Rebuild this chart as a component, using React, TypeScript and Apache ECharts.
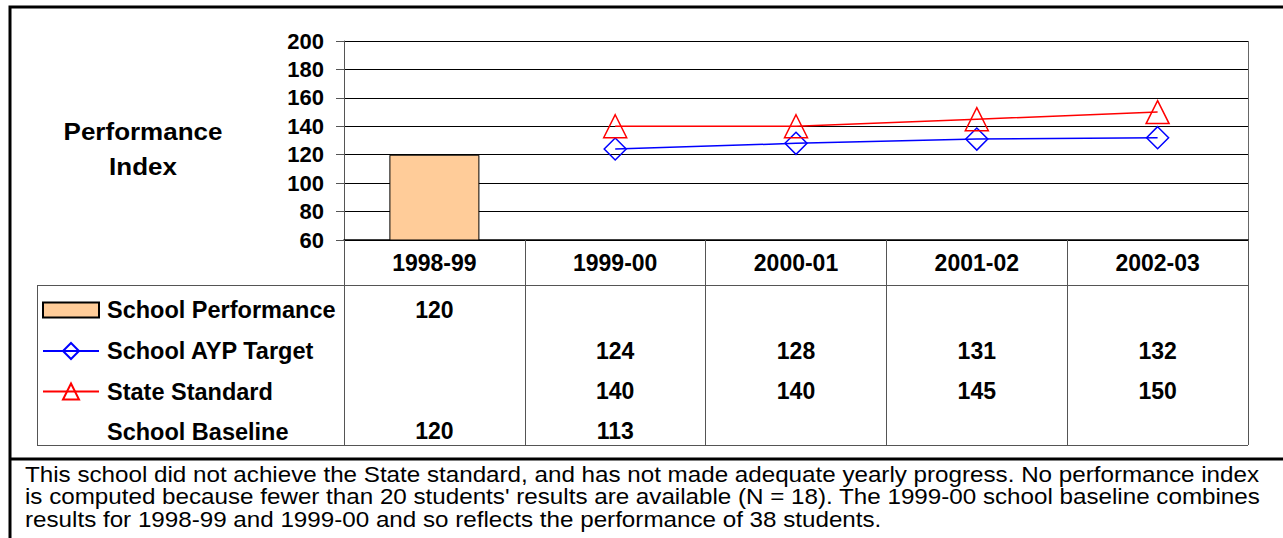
import React, { useEffect, useRef } from "react";
import * as echarts from "echarts";

const categories = ["1998-99", "1999-00", "2000-01", "2001-02", "2002-03"];
const schoolPerformance: (number | null)[] = [120, null, null, null, null];
const aypTarget: (number | null)[] = [null, 124, 128, 131, 132];
const stateStandard: (number | null)[] = [null, 140, 140, 145, 150];
const schoolBaseline: (number | null)[] = [120, 113, null, null, null];
const yMin = 60;
const yMax = 200;
const yStep = 20;
const axisTitle = ["Performance", "Index"];
const seriesNames = ["School Performance", "School AYP Target", "State Standard", "School Baseline"];
const noteLines = [
  "This school did not achieve the State standard, and has not made adequate yearly progress. No performance index",
  "is computed because fewer than 20 students' results are available (N = 18). The 1999-00 school baseline combines",
  "results for 1998-99 and 1999-00 and so reflects the performance of 38 students.",
];

const FONT = "'Liberation Sans', Arial, Helvetica, sans-serif";

export default function App() {
  const ref = useRef<HTMLDivElement>(null);
  useEffect(() => {
    if (!ref.current) return;
    const chart = echarts.init(ref.current, null, { renderer: "svg" });
    const rows = [schoolPerformance, aypTarget, stateStandard, schoolBaseline];
    const rowOffsets = [59, 100, 140, 180];
    const labelBase = {
      fontSize: 23,
      fontWeight: "bold" as const,
      color: "#000",
      fontFamily: FONT,
      lineHeight: 22,
    };
    const rowAxes = rows.map((row, i) => ({
      type: "category" as const,
      data: categories,
      gridIndex: 0,
      position: "bottom" as const,
      offset: rowOffsets[i],
      axisLine: { show: false },
      axisTick: { show: false },
      splitLine: { show: false },
      axisLabel: {
        ...labelBase,
        interval: 0,
        margin: 0,
        formatter: (_v: string, idx: number) => (row[idx] == null ? "" : String(row[idx])),
      },
    }));
    const legendText = { ...labelBase, fontSize: 23.5, padding: [0, 0, 0, 3] };
    const option: any = {
      animation: false,
      backgroundColor: "#fff",
      grid: { left: 344, top: 41, width: 904, height: 199, containLabel: false },
      xAxis: [
        {
          type: "category",
          data: categories,
          position: "bottom",
          axisLine: { show: true, lineStyle: { color: "#000", width: 1.5 } },
          axisTick: { show: true, length: 205, alignWithLabel: false, interval: 0, lineStyle: { color: "#555", width: 1 } },
          axisLabel: { ...labelBase, interval: 0, margin: 12 },
          splitLine: { show: false },
        },
        ...rowAxes,
      ],
      yAxis: {
        type: "value",
        min: yMin,
        max: yMax,
        interval: yStep,
        axisLine: { show: true, lineStyle: { color: "#555", width: 1 } },
        axisTick: { show: true, length: 8, lineStyle: { color: "#555" } },
        axisLabel: { ...labelBase, fontSize: 22, margin: 20 },
        splitLine: { show: true, lineStyle: { color: "#000", width: 1 } },
      },
      legend: [
        {
          orient: "vertical",
          left: 37,
          top: 293,
          itemWidth: 56,
          itemHeight: 15,
          selectedMode: false,
          textStyle: legendText,
          data: [{ name: seriesNames[0], icon: "rect" }],
        },
        {
          orient: "vertical",
          left: 37,
          top: 334,
          itemWidth: 56,
          itemHeight: 20,
          itemGap: 16.5,
          selectedMode: false,
          textStyle: legendText,
          data: [
            { name: seriesNames[1] },
            { name: seriesNames[2] },
            { name: seriesNames[3], icon: "none", itemStyle: { opacity: 0 }, lineStyle: { opacity: 0 } },
          ],
        },
      ],
      series: [
        {
          name: seriesNames[0],
          type: "bar",
          data: schoolPerformance,
          barWidth: 90,
          itemStyle: { color: "#FFCC99", borderColor: "#000", borderWidth: 1 },
        },
        {
          name: seriesNames[1],
          type: "line",
          data: aypTarget,
          symbol: "diamond",
          symbolSize: 22,
          lineStyle: { color: "#0000FF", width: 1.5 },
          itemStyle: { color: "rgba(255,255,255,0)", borderColor: "#0000FF", borderWidth: 1.5 },
        },
        {
          name: seriesNames[2],
          type: "line",
          data: stateStandard,
          symbol: "triangle",
          symbolSize: 23,
          lineStyle: { color: "#FF0000", width: 1.5 },
          itemStyle: { color: "rgba(255,255,255,0)", borderColor: "#FF0000", borderWidth: 1.5 },
        },
        {
          name: seriesNames[3],
          type: "line",
          data: [],
          symbol: "none",
          lineStyle: { opacity: 0 },
        },
      ],
      graphic: [
        {
          type: "rect",
          shape: { x: 10, y: 7, width: 1300, height: 600 },
          style: { fill: "none", stroke: "#000", lineWidth: 3 },
          silent: true,
        },
        {
          type: "line",
          shape: { x1: 10, y1: 459, x2: 1290, y2: 459 },
          style: { stroke: "#000", lineWidth: 3 },
          silent: true,
        },
        {
          type: "line",
          shape: { x1: 1248.5, y1: 41, x2: 1248.5, y2: 240 },
          style: { stroke: "#666", lineWidth: 1 },
          silent: true,
        },
        {
          type: "line",
          shape: { x1: 37, y1: 285.5, x2: 1248, y2: 285.5 },
          style: { stroke: "#555", lineWidth: 1 },
          silent: true,
        },
        {
          type: "line",
          shape: { x1: 37.5, y1: 285, x2: 37.5, y2: 445 },
          style: { stroke: "#555", lineWidth: 1 },
          silent: true,
        },
        {
          type: "line",
          shape: { x1: 37, y1: 445.5, x2: 1248, y2: 445.5 },
          style: { stroke: "#555", lineWidth: 1 },
          silent: true,
        },
        {
          type: "text",
          x: 143,
          y: 150,
          scaleX: 1.13,
          style: {
            text: axisTitle.join("\n"),
            fontSize: 23,
            fontWeight: "bold",
            fontFamily: FONT,
            fill: "#000",
            lineHeight: 35,
            align: "center",
            verticalAlign: "middle",
          },
          silent: true,
        },
        ...noteLines.map((t, i) => ({
          type: "text",
          x: 25,
          y: 474 + i * 22.5,
          scaleX: 1.1,
          style: {
            text: t,
            fontSize: 22,
            fontFamily: FONT,
            fill: "#000",
            align: "left",
            verticalAlign: "middle",
          },
          silent: true,
        })),
      ],
    };
    chart.setOption(option);
    return () => chart.dispose();
  }, []);
  return (
    <div
      ref={ref}
      style={{ position: "absolute", left: 0, top: 0, width: 1283, height: 538, background: "#fff" }}
    />
  );
}
